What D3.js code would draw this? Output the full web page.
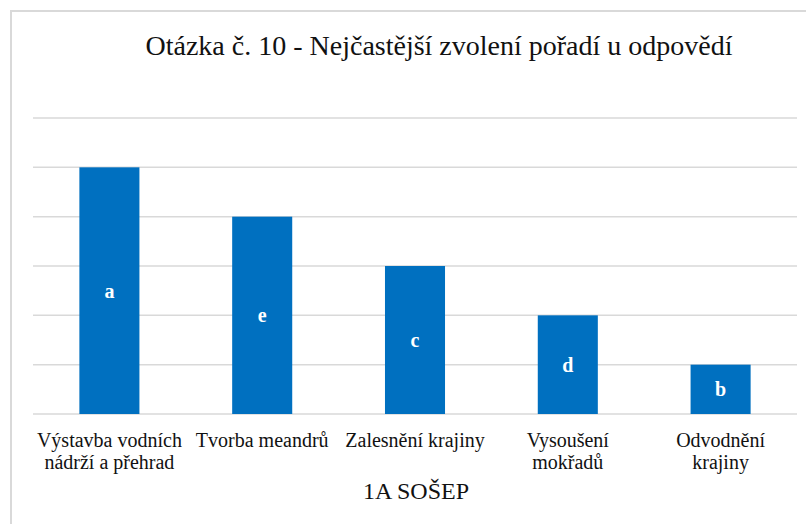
<!DOCTYPE html>
<html>
<head>
<meta charset="utf-8">
<script src="https://cdn.jsdelivr.net/npm/d3@7"></script>
<style>
  body { margin: 0; background: #fff; }
  svg { display: block; }
</style>
</head>
<body>
<svg id="chart" width="806" height="524"></svg>
<script>
const categories = [
  ['Výstavba vodních', 'nádrží a přehrad'],
  ['Tvorba meandrů'],
  ['Zalesnění krajiny'],
  ['Vysoušení', 'mokřadů'],
  ['Odvodnění', 'krajiny']
];
const values = [5, 4, 3, 2, 1];
const barLabels = ['a', 'e', 'c', 'd', 'b'];
const yTicks = [0, 1, 2, 3, 4, 5, 6];
const title = 'Otázka č. 10 - Nejčastější zvolení pořadí u odpovědí';
const axisTitle = '1A SOŠEP';

const svg = d3.select('#chart')
    .attr('font-family', "'Liberation Serif', 'Times New Roman', serif");

// chart frame (only top/left visible in the crop)
svg.append('path')
    .attr('d', 'M11,524V11H806')
    .attr('fill', 'none')
    .attr('stroke', '#d9d9d9')
    .attr('stroke-width', 2);

var x = d3.scaleBand()
    .domain(d3.range(values.length))
    .range([33, 797])
    .paddingInner(0.607)
    .paddingOuter(0.3035);

var y = d3.scaleLinear([0, 6], [414, 118]);

svg.append('g')
    .selectAll('line')
    .data(yTicks)
    .enter()
    .append('line')
    .attr('x1', 33)
    .attr('x2', 797)
    .attr('y1', d => y(d))
    .attr('y2', d => y(d))
    .attr('stroke', '#d9d9d9')
    .attr('stroke-width', 1.5);

svg.append('g')
    .selectAll('rect')
    .data(values)
    .enter()
    .append('rect')
    .attr('x', (d, i) => x(i))
    .attr('y', d => y(d))
    .attr('width', x.bandwidth())
    .attr('height', d => y(0) - y(d))
    .attr('fill', '#0070c0');

svg.append('g')
    .selectAll('text')
    .data(values)
    .enter()
    .append('text')
    .attr('x', (d, i) => x(i) + x.bandwidth() / 2)
    .attr('y', d => (y(d) + y(0)) / 2 + 7)
    .attr('text-anchor', 'middle')
    .attr('fill', '#fff')
    .attr('font-weight', 'bold')
    .attr('font-size', 20)
    .text((d, i) => barLabels[i]);

var cat = svg.append('g')
    .selectAll('text')
    .data(categories)
    .enter()
    .append('text')
    .attr('x', (d, i) => x(i) + x.bandwidth() / 2)
    .attr('y', 447)
    .attr('text-anchor', 'middle')
    .attr('font-size', 20)
    .attr('fill', '#111');
cat.selectAll('tspan')
    .data(d => d)
    .enter()
    .append('tspan')
    .attr('x', function() { return d3.select(this.parentNode).attr('x'); })
    .attr('dy', (d, i) => i ? 22 : 0)
    .text(d => d);

svg.append('text')
    .attr('x', 416)
    .attr('y', 499)
    .attr('text-anchor', 'middle')
    .attr('font-size', 24)
    .attr('fill', '#111')
    .text(axisTitle);

svg.append('text')
    .attr('x', 439)
    .attr('y', 55)
    .attr('text-anchor', 'middle')
    .attr('font-size', 28)
    .attr('fill', '#111')
    .text(title);
</script>
</body>
</html>
